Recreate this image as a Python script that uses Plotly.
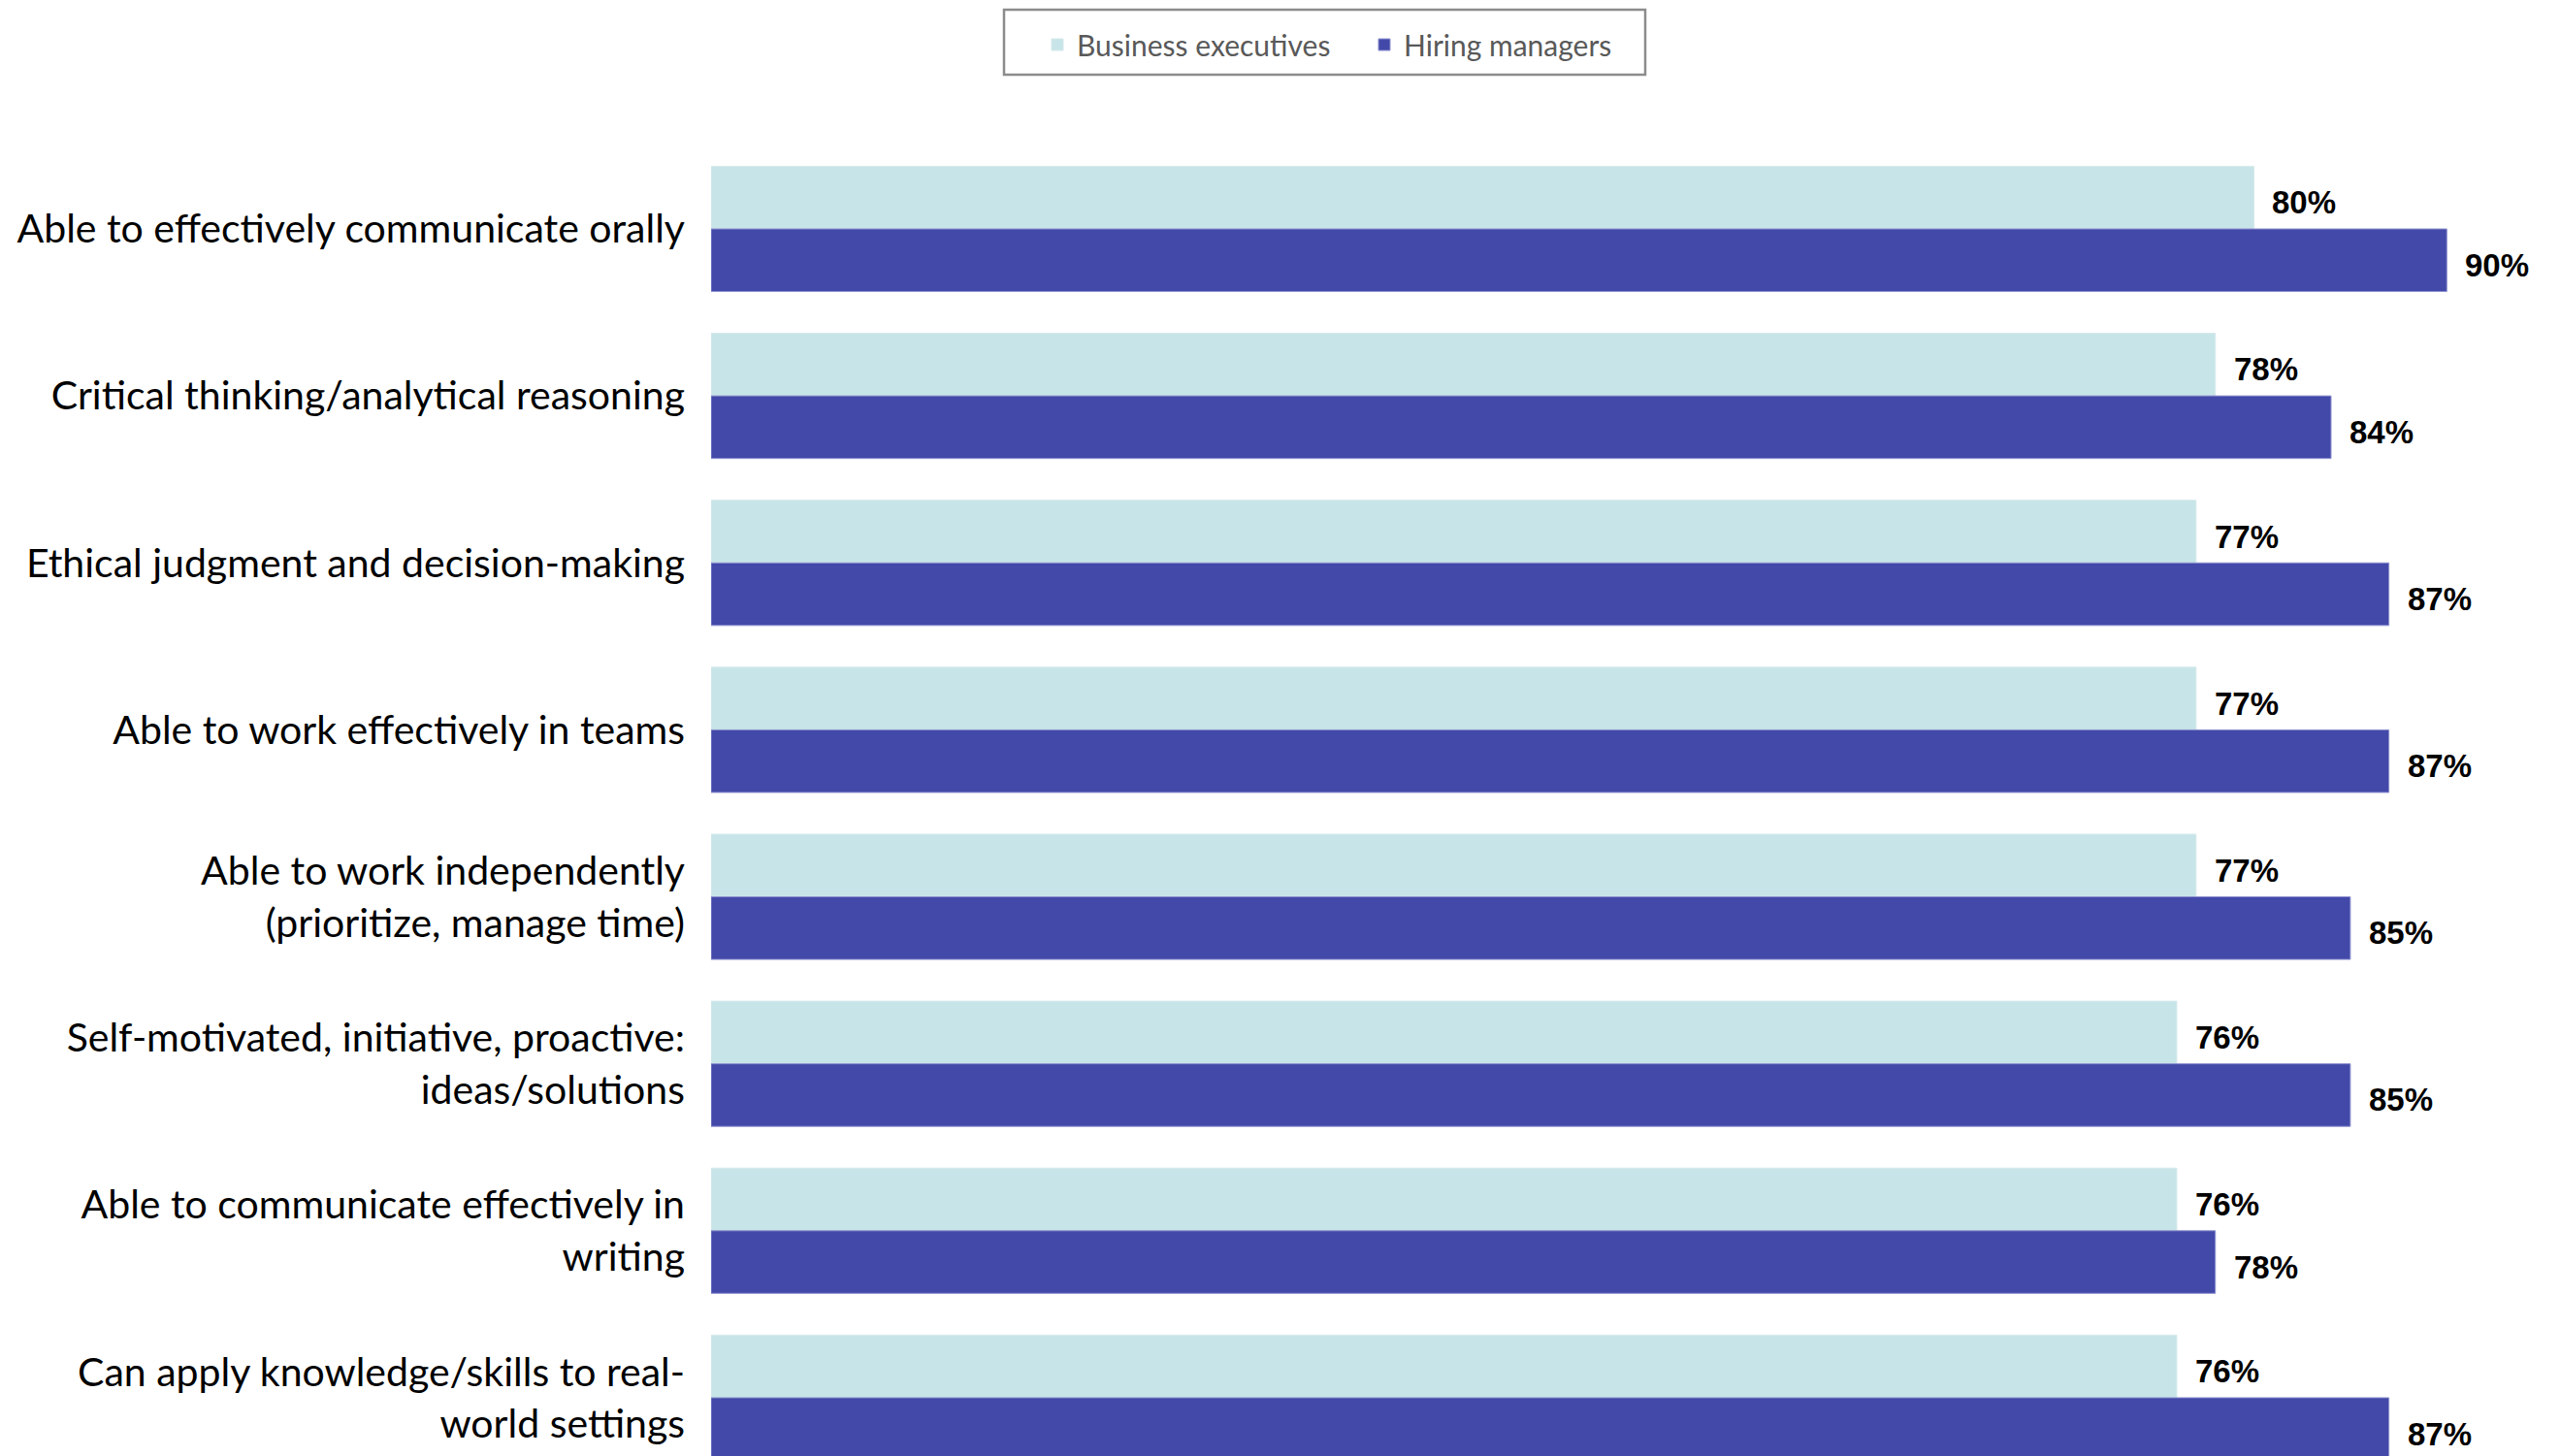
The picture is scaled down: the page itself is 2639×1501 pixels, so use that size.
import plotly.graph_objects as go

categories = [
    "Able to effectively communicate orally",
    "Critical thinking/analytical reasoning",
    "Ethical judgment and decision-making",
    "Able to work effectively in teams",
    "Able to work independently<br>(prioritize, manage time)",
    "Self-motivated, initiative, proactive:<br>ideas/solutions",
    "Able to communicate effectively in<br>writing",
    "Can apply knowledge/skills to real-<br>world settings",
]
business_executives = [80, 78, 77, 77, 77, 76, 76, 76]
hiring_managers = [90, 84, 87, 87, 85, 85, 78, 87]
series_names = ["Business executives", "Hiring managers"]

LIGHT = "#C7E5E8"
DARK = "#4349A8"
W, H = 2639, 1501
PLOT_L, PLOT_T = 733, 100
PLOT_W, PLOT_H = W - PLOT_L, H - PLOT_T
HALF_BAR_PX = 32.25

fig = go.Figure()
for name, vals, col, lcol in [
    (series_names[0], business_executives, LIGHT, "#d6e9eb"),
    (series_names[1], hiring_managers, DARK, "#8e92cf"),
]:
    fig.add_trace(go.Bar(
        name=name, y=categories, x=vals, orientation="h",
        marker=dict(color=col, line=dict(color=lcol, width=1)),
        hoverinfo="skip",
    ))

# value labels at bar ends
for vals, ysh in [(business_executives, HALF_BAR_PX - 5), (hiring_managers, -HALF_BAR_PX - 5)]:
    for cat, v in zip(categories, vals):
        fig.add_annotation(
            x=v, y=cat, xref="x", yref="y", text=f"{v}%", showarrow=False,
            xanchor="left", yanchor="middle", xshift=17, yshift=ysh,
            font=dict(family="Liberation Sans", size=33, color="#000000", weight="bold"),
        )

# legend frame (paper coordinates relative to plot area)
bx0, bx1, by0, by1 = 1035, 1696, 10, 77
fig.add_shape(
    type="rect", xref="paper", yref="paper",
    x0=(bx0 - PLOT_L) / PLOT_W, x1=(bx1 - PLOT_L) / PLOT_W,
    y0=1 + (PLOT_T - by1) / PLOT_H, y1=1 + (PLOT_T - by0) / PLOT_H,
    line=dict(color="#8c8c8c", width=2.5), fillcolor="rgba(0,0,0,0)",
)

fig.update_layout(
    width=W, height=H,
    barmode="group", bargap=0.25, bargroupgap=0,
    plot_bgcolor="white", paper_bgcolor="white",
    margin=dict(l=PLOT_L, r=0, t=PLOT_T, b=0, pad=0),
    font=dict(family="Lato", color="#000000"),
    xaxis=dict(range=[0, 95.87], visible=False, showgrid=False, zeroline=False),
    yaxis=dict(
        range=[7.349, -0.790], type="category",
        showgrid=False, zeroline=False, showline=False,
        ticks="", ticklabelstandoff=26,
        tickfont=dict(family="Lato", size=41, color="#000000"),
    ),
    legend=dict(
        orientation="h", xref="container", yref="container",
        x=1070 / W, xanchor="left", y=1 - 20 / H, yanchor="top",
        borderwidth=0, bgcolor="rgba(0,0,0,0)",
        entrywidth=292,
        font=dict(family="Lato", size=30, color="#595959"),
        traceorder="normal",
    ),
    showlegend=True,
)

fig.write_html("out.html", config={"displayModeBar": False},
               post_script="document.body.style.margin='0';")
